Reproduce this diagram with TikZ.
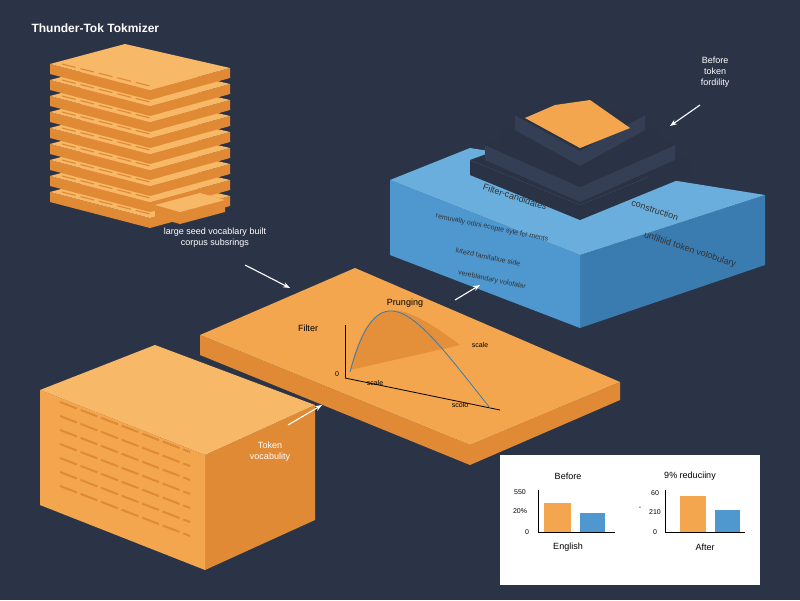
\documentclass[tikz,border=0pt]{standalone}
\usepackage{fontspec}
\setmainfont{Liberation Sans}
\usetikzlibrary{arrows.meta}
\definecolor{bg}{HTML}{2B3447}
\definecolor{org}{HTML}{F4A64E}
\definecolor{orgd}{HTML}{E08A35}
\definecolor{orgl}{HTML}{F7B867}
\definecolor{blu}{HTML}{4E97CF}
\definecolor{blud}{HTML}{3A7BB0}
\definecolor{blul}{HTML}{6AAEDD}
\definecolor{drk}{HTML}{2A3345}
\definecolor{drk2}{HTML}{343F55}
\begin{document}
\begin{tikzpicture}[x=1pt,y=-1pt,
  lbl/.style={text=white,font=\small,align=center},
  dl/.style={text=black,font=\scriptsize},
  arr/.style={-{Stealth[length=7pt]},white,line width=1.1pt}]
\fill[bg] (0,0) rectangle (800,600);
\useasboundingbox (0,0) rectangle (800,600);
\node[text=white,font=\bfseries\large,anchor=west] (title) at (28,28) {Thunder-Tok Tokmizer};
% stack of slabs
\foreach \i in {0,...,8}{
  \pgfmathsetmacro\yy{200-\i*16}
  \fill[orgd] (50,\yy-8) -- (150,\yy+18) -- (230,\yy-4) -- (230,\yy+6) -- (150,\yy+28) -- (50,\yy+2) -- cycle;
  \fill[orgl] (50,\yy-8) -- (125,\yy-28) -- (230,\yy-4) -- (150,\yy+18) -- cycle;
  \draw[orgd,line width=1.2pt,dash pattern=on 14pt off 5pt] (62,\yy-8) -- (150,\yy+14);
}
\fill[orgd] (155,205) -- (200,193) -- (225,200) -- (225,212) -- (180,224) -- (155,217) -- cycle;
\fill[orgl] (155,205) -- (200,193) -- (225,200) -- (180,212) -- cycle;
% big slab
\fill[orgd] (200,335) -- (470,445) -- (620,382) -- (620,400) -- (470,465) -- (200,355) -- cycle;
\fill[org] (200,335) -- (355,268) -- (620,382) -- (470,445) -- cycle;
\draw[black,thick] (345,378) -- (345,325);
\draw[black,thick] (345,378) -- (500,410);
\fill[orgd,opacity=0.8] (350,370) .. controls (370,290) and (400,300) .. (460,345) -- cycle;
\draw[blud,thick] (350,372) .. controls (380,260) and (420,320) .. (490,408);
\node[dl,font=\small] (filt) at (308,328) {Filter};
\node[dl,font=\small] (prun) at (405,303) {Prunging};
\node[dl] (z) at (337,374) {0};
\node[dl] (s1) at (375,383) {scale};
\node[dl] (s2) at (480,345) {scale};
\node[dl] (s3) at (460,405) {scolo};
% blue box
\fill[blud] (580,255) -- (765,195) -- (765,265) -- (580,328) -- cycle;
\fill[blu] (390,180) -- (580,255) -- (580,328) -- (390,255) -- cycle;
\fill[blul] (390,180) -- (470,148) -- (765,195) -- (580,255) -- cycle;
% dark pyramid
\foreach \k/\c in {0/drk,1/drk2,2/drk,3/drk2}{
  \pgfmathsetmacro\o{\k*15}
  \fill[\c] (470+\o,175-\o) -- (580,220-\o*1.2) -- (690-\o,175-\o) -- (690-\o,160-\o) -- (580,205-\o*1.2) -- (470+\o,160-\o) -- cycle;
  \fill[drk2!80!black] (470+\o,160-\o) -- (580,120-\o*0.3) -- (690-\o,160-\o) -- (580,205-\o*1.2) -- cycle;
}
\fill[org] (525,118) -- (555,105) -- (590,100) -- (630,128) -- (580,148) -- cycle;
\node[lbl,text=black!80,rotate=-18] (fc) at (515,197) {Filter-candidates};
\node[lbl,text=black!80,rotate=-18] (con) at (655,210) {construction};
\node[text=black!80,rotate=-12,font=\scriptsize,inner sep=0pt] (t1) at (492,228) {remuvally odini ecopte syle fcr ments};
\node[text=black!80,rotate=-12,font=\scriptsize,inner sep=0pt] (t2) at (488,257) {lutezd tamitatiue side};
\node[text=black!80,rotate=-12,font=\scriptsize,inner sep=0pt] (t3) at (492,280) {vereblandary volofalar};
\node[lbl,text=black!80,rotate=-18] (unf) at (690,250) {unfiltiid token volobulary};
% cube
\fill[orgd] (205,455) -- (315,405) -- (315,520) -- (205,570) -- cycle;
\fill[org] (40,390) -- (205,455) -- (205,570) -- (40,505) -- cycle;
\fill[orgl] (40,390) -- (155,345) -- (315,405) -- (205,455) -- cycle;
\foreach \j in {0,...,6}{\draw[orgd,line width=2pt,dash pattern=on 18pt off 4pt] (60,402+\j*14) -- (190,452+\j*14);}
% labels & arrows
\node[lbl] (seed) at (215,238) {large seed vocablary built\\ corpus subsrings};
\coordinate (a1) at (245,265); \coordinate (a1e) at (290,288);
\draw[arr] (a1) -- (a1e);
\coordinate (a2) at (455,300); \coordinate (a2e) at (480,285);
\draw[arr] (a2) -- (a2e);
\node[lbl] (tok) at (270,452) {Token\\ vocabulity};
\coordinate (a3) at (288,425); \coordinate (a3e) at (322,405);
\draw[arr] (a3) -- (a3e);
\node[lbl] (bef) at (715,72) {Before\\ token\\ fordility};
\coordinate (a4) at (700,105); \coordinate (a4e) at (670,126);
\draw[arr] (a4) -- (a4e);
% chart panel
\fill[white] (500,455) rectangle (760,585);
\node[font=\small] (b1) at (568,476) {Before};
\node[font=\small] (b2) at (690,476) {9\% reduciiny};
\draw (538,490) -- (538,532) -- (615,532);
\draw (665,490) -- (665,532) -- (745,532);
\node[dl] (y1) at (520,492) {550};
\node[dl] (y2) at (520,511) {20\%};
\node[dl] (y3) at (527,532) {0};
\node[dl] (y4) at (655,493) {60};
\node[dl] (y5) at (655,512) {210};
\node[dl] (y6) at (655,532) {0};
\node[dl] (dash) at (640,508) {-};
\fill[org] (544,503) rectangle (571,532);
\fill[blu] (580,513) rectangle (605,532);
\fill[org] (680,496) rectangle (706,532);
\fill[blu] (715,510) rectangle (740,532);
\node[font=\small] (en) at (568,547) {English};
\node[font=\small] (af) at (705,547) {After};
\end{tikzpicture}
\end{document}
